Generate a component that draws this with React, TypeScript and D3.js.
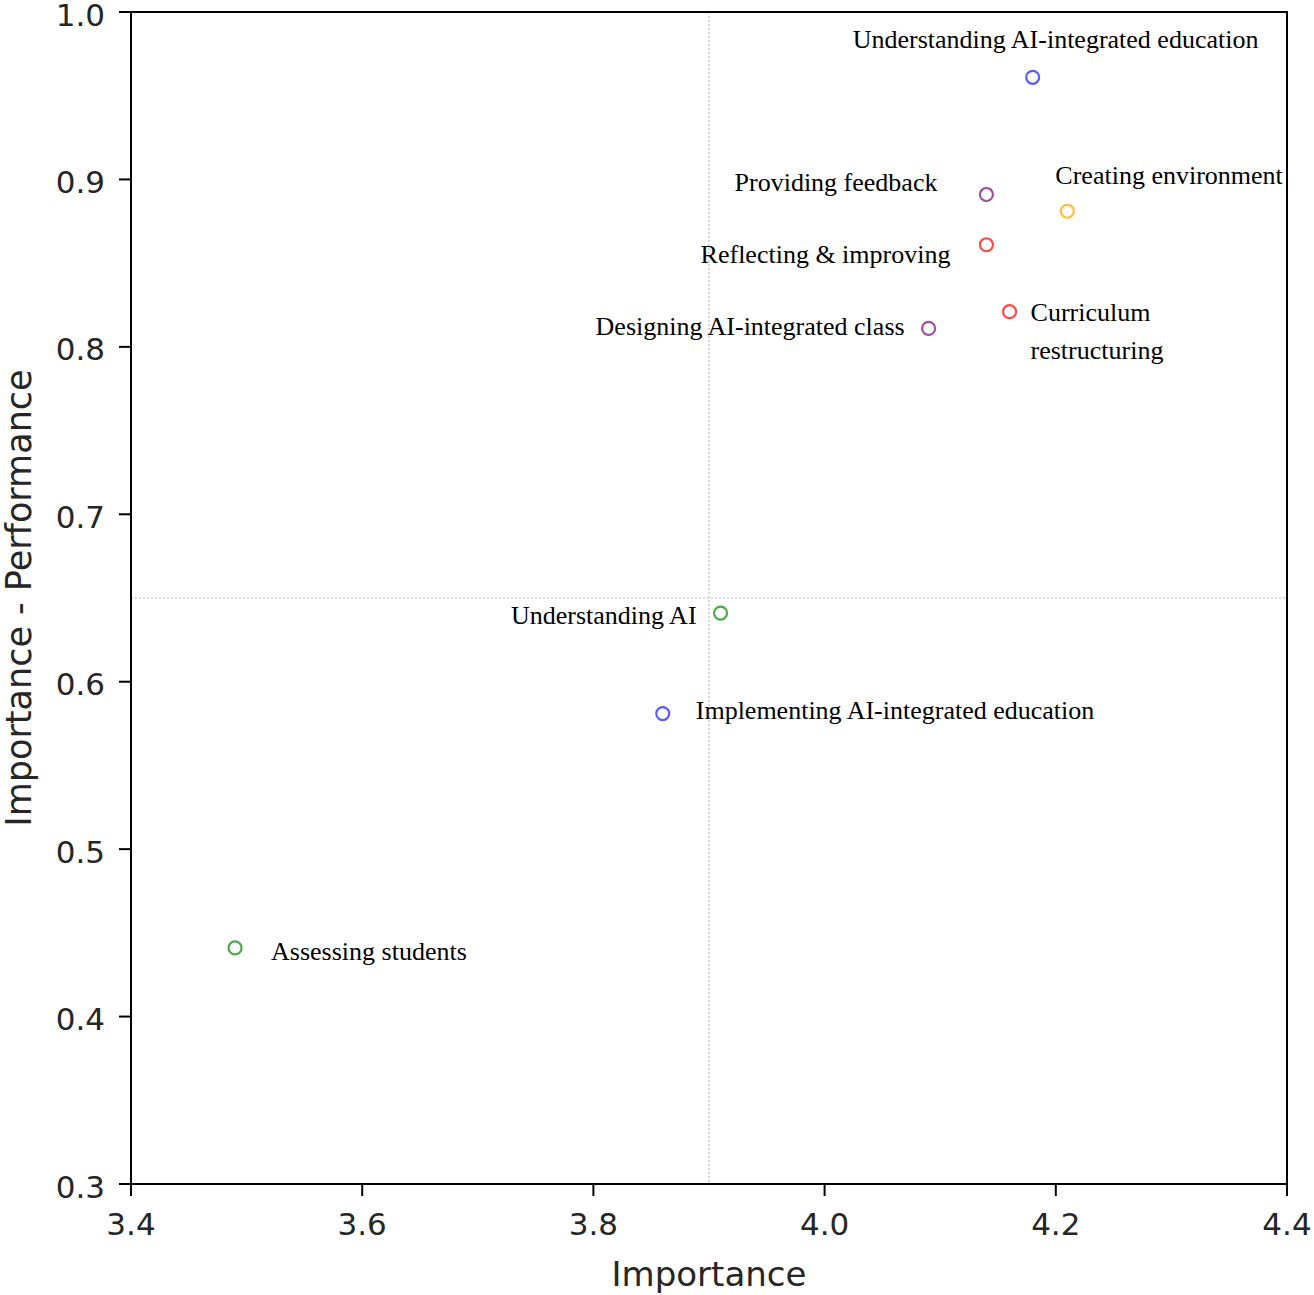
import React from "react";
import * as d3 from "d3";

const labels = [
  "Understanding AI-integrated education",
  "Providing feedback",
  "Creating environment",
  "Reflecting & improving",
  "Curriculum\nrestructuring",
  "Designing AI-integrated class",
  "Understanding AI",
  "Implementing AI-integrated education",
  "Assessing students",
];
const importance = [4.18, 4.14, 4.21, 4.14, 4.16, 4.09, 3.91, 3.86, 3.49];
const gap = [0.961, 0.891, 0.881, 0.861, 0.821, 0.811, 0.641, 0.581, 0.441];
const colors = ["blue", "purple", "orange", "red", "red", "purple", "green", "blue", "green"];
const xTicks = [3.4, 3.6, 3.8, 4.0, 4.2, 4.4];
const yTicks = [0.3, 0.4, 0.5, 0.6, 0.7, 0.8, 0.9, 1.0];
const meanImportance = 3.9;
const meanGap = 0.65;

// label placement offsets (pixels relative to point)
const labelPos: { dx: number; dy: number; anchor: string }[] = [
  { dx: -180, dy: -38, anchor: "start" },
  { dx: -49, dy: -13, anchor: "end" },
  { dx: -12, dy: -36, anchor: "start" },
  { dx: -36, dy: 9, anchor: "end" },
  { dx: 21, dy: 0, anchor: "start" },
  { dx: -24, dy: -3, anchor: "end" },
  { dx: -24, dy: 2, anchor: "end" },
  { dx: 33, dy: -4, anchor: "start" },
  { dx: 36, dy: 3, anchor: "start" },
];

const colorMap: Record<string, string> = {
  blue: "#5a5aff",
  purple: "#a04ca0",
  orange: "#ffbb44",
  red: "#ff4a4a",
  green: "#4caa4c",
};

export default function App() {
  const W = 1314, H = 1295;
  const m = { l: 131, r: 1287, t: 12, b: 1184 };
  const x = d3.scaleLinear().domain([3.4, 4.4]).range([m.l, m.r]);
  const y = d3.scaleLinear().domain([0.3, 1.0]).range([m.b, m.t]);
  const tickFont = "DejaVu Sans, sans-serif";
  const labFont = "'Liberation Serif', serif";
  return (
    <div style={{ position: "absolute", left: 0, top: 0 }}>
      <svg width={W} height={H} style={{ display: "block", background: "#fff" }}>
        {/* mean lines */}
        <line x1={x(meanImportance)} x2={x(meanImportance)} y1={m.t} y2={m.b}
          stroke="#d9d9d9" strokeWidth={2} strokeDasharray="2,2" />
        <line x1={m.l} x2={m.r} y1={y(meanGap)} y2={y(meanGap)}
          stroke="#d9d9d9" strokeWidth={2} strokeDasharray="2,2" />
        {/* points */}
        {importance.map((v, i) => (
          <circle key={i} cx={x(v)} cy={y(gap[i])} r={6.5} fill="none"
            stroke={colorMap[colors[i]]} strokeWidth={2.2} />
        ))}
        {/* labels */}
        {labels.map((t, i) => {
          const px = x(importance[i]) + labelPos[i].dx;
          const py = y(gap[i]) + labelPos[i].dy;
          const lines = t.split("\n");
          return (
            <text key={i} x={px} y={py} textAnchor={labelPos[i].anchor}
              fontFamily={labFont} fontSize={26} fill="#000">
              {lines.map((ln, j) => (
                <tspan key={j} x={px} dy={j === 0 ? "0.35em" : 38}>{ln}</tspan>
              ))}
            </text>
          );
        })}
        {/* spines */}
        <rect x={m.l} y={m.t} width={m.r - m.l} height={m.b - m.t} fill="none"
          stroke="#000" strokeWidth={2} />
        {/* x ticks */}
        {xTicks.map((t) => (
          <g key={t}>
            <line x1={x(t)} x2={x(t)} y1={m.b} y2={m.b + 12} stroke="#000" strokeWidth={2} />
            <text x={x(t)} y={m.b + 51} textAnchor="middle" fontFamily={tickFont}
              fontSize={31} fill="#262626">{d3.format(".1f")(t)}</text>
          </g>
        ))}
        {yTicks.map((t) => (
          <g key={t}>
            <line x1={m.l - 12} x2={m.l} y1={y(t)} y2={y(t)} stroke="#000" strokeWidth={2} />
            <text x={m.l - 26} y={y(t)} dy="0.44em" textAnchor="end" fontFamily={tickFont}
              fontSize={31} fill="#262626">{d3.format(".1f")(t)}</text>
          </g>
        ))}
        <text x={(m.l + m.r) / 2} y={1286} textAnchor="middle" fontFamily={tickFont}
          fontSize={34} fill="#262626">Importance</text>
        <text transform={`translate(31,${(m.t + m.b) / 2}) rotate(-90)`} textAnchor="middle"
          fontFamily={tickFont} fontSize={35} fill="#262626">Importance - Performance</text>
      </svg>
    </div>
  );
}
